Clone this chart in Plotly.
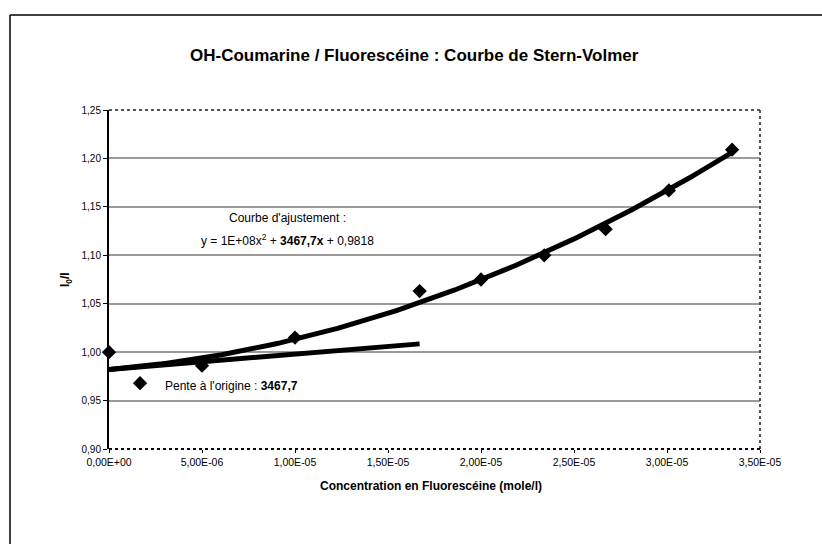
import numpy as np
import plotly.graph_objects as go

# Stern-Volmer data: fluorescein concentration (mol/l) and I0/I ratio
conc = [0.0, 1.67e-6, 5.0e-6, 1.0e-5, 1.67e-5, 2.0e-5, 2.34e-5, 2.67e-5, 3.01e-5, 3.35e-5]
ratio = [1.000, 0.968, 0.986, 1.015, 1.063, 1.075, 1.100, 1.127, 1.167, 1.209]

# extent of the tangent drawn at the origin
tangent_end = 1.67e-5

x_ticks = [0, 5e-6, 1e-5, 1.5e-5, 2e-5, 2.5e-5, 3e-5, 3.5e-5]
x_ticktext = ["0,00E+00", "5,00E-06", "1,00E-05", "1,50E-05",
              "2,00E-05", "2,50E-05", "3,00E-05", "3,50E-05"]
y_ticks = [0.90, 0.95, 1.00, 1.05, 1.10, 1.15, 1.20, 1.25]

FONT = "Liberation Sans, Arial, sans-serif"

# second-order trendline through the measurements
a, b, c = np.polyfit(conc, ratio, 2)
xs = np.linspace(0, max(conc), 200)
fit = a * xs**2 + b * xs + c
xt = np.array([0.0, tangent_end])
tangent = c + b * xt

fig = go.Figure()
fig.add_trace(go.Scatter(x=xs, y=fit, mode="lines",
                         line=dict(color="black", width=5), hoverinfo="skip"))
fig.add_trace(go.Scatter(x=xt, y=tangent, mode="lines",
                         line=dict(color="black", width=5), hoverinfo="skip"))
fig.add_trace(go.Scatter(x=conc, y=ratio, mode="markers",
                         marker=dict(symbol="diamond", size=11, color="black"),
                         cliponaxis=False))

W, H = 822, 544
L, R, T, B = 109, 62, 110, 95

fig.update_layout(
    width=W, height=H,
    margin=dict(l=L, r=R, t=T, b=B, pad=0),
    paper_bgcolor="white", plot_bgcolor="white",
    showlegend=False,
    separators=", ",
    font=dict(family=FONT, size=10, color="black"),
    xaxis=dict(range=[0, 3.5e-5], tickvals=x_ticks, ticktext=x_ticktext,
               showgrid=False, zeroline=False, showline=False,
               ticks="outside", ticklen=3, tickcolor="black",
               tickfont=dict(size=10.5, family=FONT)),
    yaxis=dict(range=[0.90, 1.25], tickvals=y_ticks, tickformat=".2f",
               showgrid=True, gridcolor="#9a9a9a", gridwidth=1.5,
               zeroline=False, showline=True, linecolor="black", linewidth=2,
               ticks="outside", ticklen=4, tickcolor="black",
               tickfont=dict(size=10, family=FONT)),
)

# plot-area frame: dotted grey top/right, dotted black bottom
fig.add_shape(type="line", xref="paper", yref="paper", x0=0, x1=1, y0=1, y1=1,
              line=dict(color="#555", width=2, dash="dot"))
fig.add_shape(type="line", xref="paper", yref="paper", x0=1, x1=1, y0=0, y1=1,
              line=dict(color="#555", width=2, dash="dot"))
fig.add_shape(type="line", xref="paper", yref="paper", x0=0, x1=1, y0=0, y1=0,
              line=dict(color="black", width=2, dash="dot"))

# outer chart border (top and left edges)
def px_x(p):
    return (p - L) / (W - L - R)

def px_y(p):
    return (H - B - p) / (H - T - B)

fig.add_shape(type="line", xref="paper", yref="paper",
              x0=px_x(10), x1=px_x(822), y0=px_y(15), y1=px_y(15),
              line=dict(color="black", width=1.5))
fig.add_shape(type="line", xref="paper", yref="paper",
              x0=px_x(10), x1=px_x(10), y0=px_y(15), y1=px_y(544),
              line=dict(color="black", width=1.5))

def label(text, x, y, size, anchor="center", angle=0):
    fig.add_annotation(text=text, xref="paper", yref="paper",
                       x=px_x(x), y=px_y(y), xanchor=anchor, yanchor="middle",
                       textangle=angle, showarrow=False,
                       font=dict(size=size, family=FONT, color="black"))

label("<b>OH-Coumarine / Fluorescéine : Courbe de Stern-Volmer</b>", 414, 55, 17)
label("<b>Concentration en Fluorescéine (mole/l)</b>", 431, 486, 12)
label("<b>I<sub>0</sub>/I</b>", 66, 280, 12, angle=-90)
label("Courbe d'ajustement :", 287, 218, 12)
label("y = 1E+08x<sup>2</sup> + <b>3467,7x</b> + 0,9818", 287, 240, 12)
label("Pente à l'origine : <b>3467,7</b>", 163, 386, 12, anchor="left")

fig.write_html("out.html")
